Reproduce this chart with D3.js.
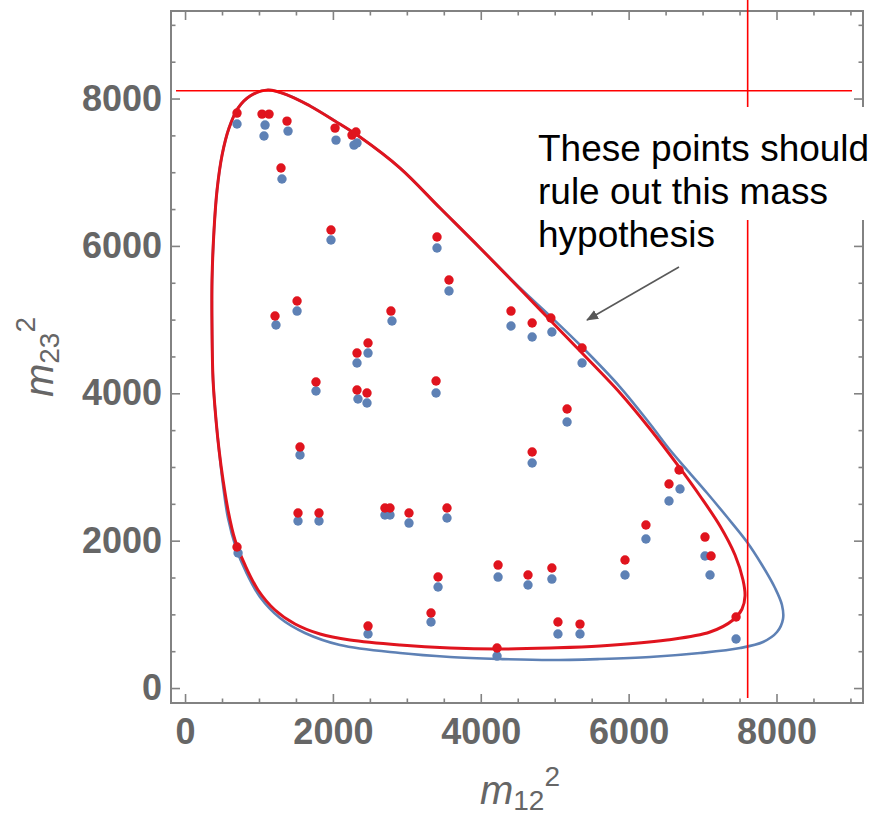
<!DOCTYPE html>
<html>
<head>
<meta charset="utf-8">
<script src="https://cdn.jsdelivr.net/npm/d3@7/dist/d3.min.js"></script>
<style>
  html, body { margin: 0; padding: 0; background: #fff; }
  svg { display: block; }
</style>
</head>
<body>
<svg id="chart" width="879" height="819"></svg>
<script>
// Dalitz-plot boundary for the two mass hypotheses, [m12², m23²]
const redBoundary = [
  [1122, 8116], [1419, 8034], [1690, 7899], [2028, 7695], [2366, 7478],
  [2908, 7057], [3449, 6514], [3990, 5972], [4531, 5415], [4937, 4994],
  [5343, 4573], [5884, 4004], [6290, 3515], [6682, 3000], [6966, 2606],
  [7236, 2199], [7439, 1805], [7547, 1466], [7574, 1249], [7534, 1073],
  [7412, 923], [7101, 760], [6519, 652], [5613, 570], [4937, 543],
  [4220, 529], [3584, 543], [2908, 584], [2231, 652], [1826, 733],
  [1488, 869], [1217, 1059], [987, 1331], [811, 1670], [676, 2009],
  [581, 2416], [514, 2823], [460, 3230], [419, 3637], [379, 4180],
  [365, 4858], [365, 5537], [392, 6216], [433, 6759], [501, 7234],
  [595, 7600], [717, 7871], [879, 8034]
];
const blueBoundary = [
  [1122, 8116], [1419, 8034], [1690, 7899], [2028, 7695], [2366, 7478],
  [2908, 7057], [3449, 6514], [3990, 5972], [4531, 5429], [4937, 5049],
  [5343, 4655], [5884, 4085], [6290, 3583], [6560, 3230], [6804, 2945],
  [7061, 2647], [7331, 2321], [7601, 1982], [7804, 1670], [7980, 1358],
  [8074, 1127], [8088, 937], [8007, 760], [7818, 625], [7507, 543],
  [6966, 475], [6290, 421], [5613, 394], [4937, 380], [4261, 394],
  [3584, 421], [2908, 475], [2096, 584], [1622, 747], [1284, 950],
  [1014, 1235], [825, 1574], [690, 1900], [581, 2307], [514, 2755],
  [460, 3230], [419, 3637], [379, 4180], [365, 4858], [365, 5537],
  [392, 6216], [433, 6759], [501, 7234], [595, 7600], [717, 7871],
  [879, 8034]
];

// Events, [m12², m23²]
const redPoints = [
  [703, 7803], [1041, 7789], [1136, 7789], [1379, 7694], [1298, 7057],
  [1974, 6216], [2029, 7599], [2258, 7504], [2312, 7545], [3408, 6121],
  [3570, 5537], [1217, 5049], [1515, 5252], [2785, 5116], [4409, 5116],
  [4695, 4954], [4948, 5022], [5370, 4614], [2475, 4682], [2326, 4546],
  [1771, 4153], [3395, 4167], [2326, 4045], [2461, 4004], [5167, 3787],
  [4695, 3203], [1555, 3271], [6682, 2959], [6546, 2769], [6234, 2212],
  [7033, 2049], [7115, 1792], [5951, 1737], [7453, 964], [703, 1914],
  [1528, 2375], [1812, 2375], [2704, 2443], [2772, 2443], [3029, 2375],
  [3543, 2443], [2475, 841], [3327, 1018], [3422, 1507], [4234, 1669],
  [4639, 1534], [4962, 1629], [5044, 896], [5342, 868], [4220, 543]
];
const bluePoints = [
  [703, 7654], [1068, 7491], [1082, 7640], [1393, 7558], [1311, 6908],
  [1974, 6080], [2042, 7436], [2285, 7368], [2326, 7396], [3408, 5972],
  [3570, 5388], [1230, 4927], [1515, 5116], [2799, 4981], [4409, 4913],
  [4695, 4764], [4962, 4832], [5370, 4411], [2475, 4546], [2326, 4411],
  [1771, 4031], [3395, 4004], [2339, 3923], [2461, 3868], [5167, 3610],
  [4695, 3054], [1555, 3162], [6695, 2701], [6546, 2538], [6234, 2022],
  [7033, 1792], [7101, 1534], [5951, 1534], [7453, 665], [717, 1832],
  [1528, 2267], [1812, 2267], [2704, 2348], [2772, 2348], [3029, 2239],
  [3543, 2307], [2475, 733], [3327, 896], [3422, 1371], [4234, 1506],
  [4639, 1398], [4962, 1479], [5044, 733], [5342, 733], [4220, 434]
];

// Kinematic limits: maximum m12² and maximum m23²
const limitM12 = [7610];
const limitM23 = [8105];

// Axis ticks
const majorTicks = [0, 2000, 4000, 6000, 8000];
const minorTicks = [500, 1000, 1500, 2500, 3000, 3500, 4500, 5000, 5500, 6500, 7000, 7500, 8500, 9000];

const noteLines = ["These points should", "rule out this mass", "hypothesis"];

const svg = d3.select("#chart");
const frame = { left: 171, right: 863, top: 11, bottom: 703 };

const x = d3.scaleLinear().domain([-190, 9170]).range([frame.left, frame.right]);
const y = d3.scaleLinear().domain([-203, 9188]).range([frame.bottom, frame.top]);

const frameColor = "#828282";
const labelColor = "#666666";
const red = "#e0141e";
const blue = "#5e81b5";

svg.append("rect").attr("width", 879).attr("height", 819).attr("fill", "#fff");

// Boundaries
const boundary = d3.line()
  .x(d => x(d[0])).y(d => y(d[1]))
  .curve(d3.curveCatmullRomClosed.alpha(0.5));

svg.append("path").datum(blueBoundary)
  .attr("d", boundary).attr("fill", "none")
  .attr("stroke", blue).attr("stroke-width", 2.6);
svg.append("path").datum(redBoundary)
  .attr("d", boundary).attr("fill", "none")
  .attr("stroke", red).attr("stroke-width", 3);

// Events
svg.append("g").selectAll("circle").data(bluePoints).join("circle")
  .attr("cx", d => x(d[0])).attr("cy", d => y(d[1])).attr("r", 4.7)
  .attr("fill", blue);
svg.append("g").selectAll("circle").data(redPoints).join("circle")
  .attr("cx", d => x(d[0])).attr("cy", d => y(d[1])).attr("r", 4.7)
  .attr("fill", red);

// Frame with ticks on all four sides
function styleAxis(g) {
  g.select(".domain").remove();
  g.selectAll(".tick line").attr("stroke", frameColor).attr("stroke-width", 1.6);
  g.selectAll(".tick text")
    .attr("fill", labelColor)
    .attr("font-family", "'Liberation Sans', Arial, sans-serif")
    .attr("font-weight", "bold")
    .attr("font-size", 36);
}
const sides = [
  { axis: d3.axisBottom(x), t: `translate(0,${frame.bottom})`, labels: true, pad: 15 },
  { axis: d3.axisTop(x), t: `translate(0,${frame.top})`, labels: false, pad: 0 },
  { axis: d3.axisLeft(y), t: `translate(${frame.left},0)`, labels: true, pad: 9 },
  { axis: d3.axisRight(y), t: `translate(${frame.right},0)`, labels: false, pad: 0 }
];
sides.forEach(s => {
  svg.append("g").attr("transform", s.t)
    .call(s.axis.tickValues(majorTicks).tickSize(-9).tickPadding(s.pad)
      .tickFormat(s.labels ? d3.format("d") : () => ""))
    .call(styleAxis);
  svg.append("g").attr("transform", s.t)
    .call(s.axis.tickValues(minorTicks).tickSize(-4.5).tickFormat(() => ""))
    .call(styleAxis);
});
svg.append("rect")
  .attr("x", frame.left).attr("y", frame.top)
  .attr("width", frame.right - frame.left).attr("height", frame.bottom - frame.top)
  .attr("fill", "none").attr("stroke", frameColor).attr("stroke-width", 2);

// Axis titles
const titleFont = "'Liberation Sans', Arial, sans-serif";
function massLabel(g, sub) {
  const t = g.append("text")
    .attr("font-family", titleFont).attr("fill", labelColor)
    .attr("text-anchor", "middle");
  t.append("tspan").attr("font-style", "italic").attr("font-size", 40).text("m");
  t.append("tspan").attr("font-size", 28).attr("dy", 6).text(sub);
  t.append("tspan").attr("font-size", 28).attr("dy", -24).text("2");
  return t;
}
massLabel(svg.append("g").attr("transform", "translate(520,804)"), "12");
massLabel(svg.append("g").attr("transform", "translate(53,357) rotate(-90)"), "23");

// Kinematic limit lines
svg.selectAll("line.limit-v").data(limitM12).join("line")
  .attr("class", "limit-v")
  .attr("x1", d => x(d)).attr("x2", d => x(d))
  .attr("y1", 0).attr("y2", 698)
  .attr("stroke", "#ff0000").attr("stroke-width", 1.6);
svg.selectAll("line.limit-h").data(limitM23).join("line")
  .attr("class", "limit-h")
  .attr("x1", 176).attr("x2", 852)
  .attr("y1", d => y(d)).attr("y2", d => y(d))
  .attr("stroke", "#ff0000").attr("stroke-width", 1.6);

// Note with arrow
svg.append("rect").attr("x", 528).attr("y", 107).attr("width", 351).attr("height", 113).attr("fill", "#fff");
const note = svg.append("text")
  .attr("font-family", "'Liberation Sans', Arial, sans-serif")
  .attr("font-size", 37).attr("fill", "#000");
noteLines.forEach((line, i) => {
  note.append("tspan").attr("x", 538).attr("y", 161 + i * 43).text(line);
});

svg.append("defs").append("marker")
  .attr("id", "head").attr("viewBox", "0 0 12 10")
  .attr("refX", 11).attr("refY", 5)
  .attr("markerWidth", 12).attr("markerHeight", 10)
  .attr("markerUnits", "userSpaceOnUse").attr("orient", "auto")
  .append("path").attr("d", "M0,0 L12,5 L0,10 Z").attr("fill", "#595959");
svg.append("line")
  .attr("x1", 679).attr("y1", 267).attr("x2", 587).attr("y2", 320)
  .attr("stroke", "#595959").attr("stroke-width", 1.6)
  .attr("marker-end", "url(#head)");
</script>
</body>
</html>
